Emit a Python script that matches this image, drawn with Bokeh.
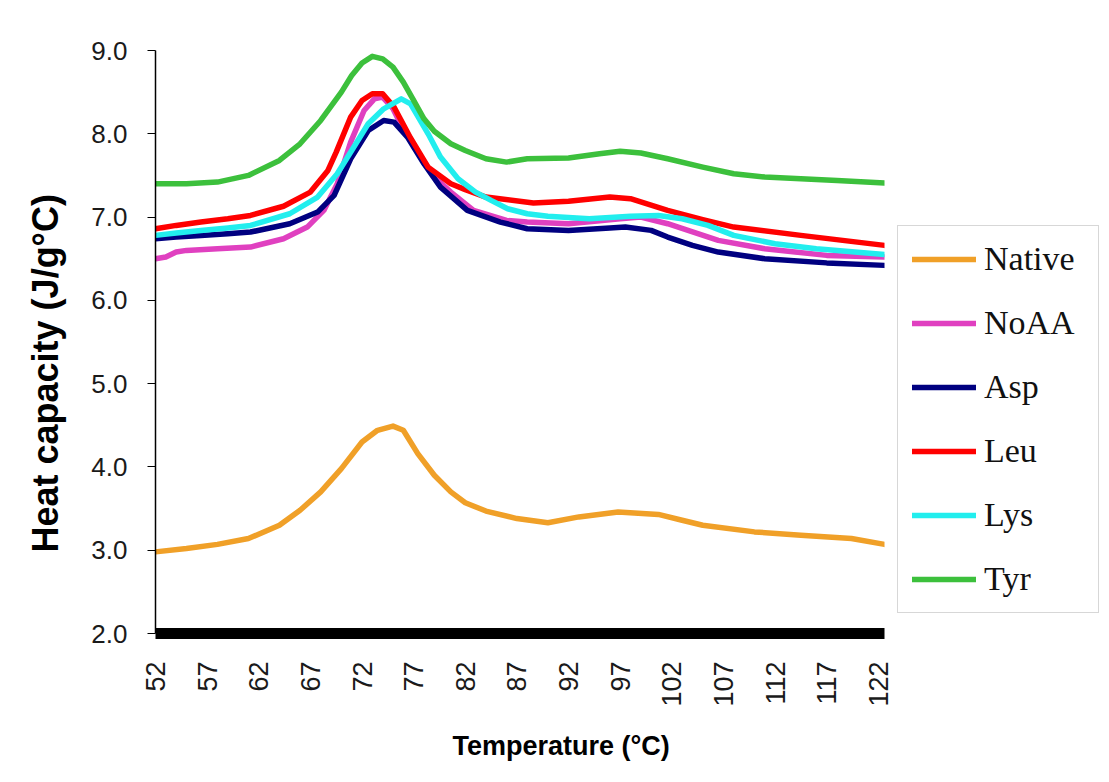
import math
from bokeh.plotting import figure
from bokeh.models import (Range1d, FixedTicker, PrintfTickFormatter, Legend, LegendItem, Title)
from bokeh.embed import file_html
from bokeh.resources import INLINE

# ---- data ----
series_names = ["Native", "NoAA", "Asp", "Leu", "Lys", "Tyr"]
series_colors = ["#F0A028", "#E040C0", "#000080", "#FF0000", "#22EEEE", "#3CC03C"]

native_T = [52, 55, 58, 61, 64, 66, 68, 70, 72, 73.5, 75, 76, 77.4, 79, 80.6, 82, 84, 87, 90, 93, 96.8, 100.7, 103, 105, 110, 114.5, 119.4, 122.6]
native = [2.98, 3.02, 3.07, 3.14, 3.30, 3.48, 3.70, 3.98, 4.30, 4.44, 4.49, 4.44, 4.16, 3.90, 3.70, 3.57, 3.47, 3.38, 3.33, 3.40, 3.46, 3.43, 3.36, 3.30, 3.22, 3.18, 3.14, 3.07]

noaa_T = [52, 53, 54, 55, 58, 61.2, 64.4, 66.7, 68.3, 69.6, 70.9, 72.2, 73.2, 74, 75, 76, 77.4, 79, 80.6, 82.8, 86, 88, 92, 97, 99, 101.6, 106.5, 111, 117, 122.6]
noaa = [6.50, 6.52, 6.58, 6.60, 6.62, 6.64, 6.74, 6.88, 7.08, 7.40, 7.90, 8.28, 8.42, 8.44, 8.30, 8.05, 7.78, 7.48, 7.30, 7.08, 6.96, 6.94, 6.92, 6.98, 7.00, 6.92, 6.72, 6.62, 6.54, 6.52]

asp_T = [52, 54, 56.4, 59, 61.2, 65, 67.7, 69.3, 70.9, 72.6, 74.1, 75.1, 76.4, 78, 79.6, 82.2, 85.4, 88, 92, 96, 97.5, 100, 101.6, 104, 106.5, 111, 117, 122.6]
asp = [6.74, 6.76, 6.78, 6.80, 6.82, 6.92, 7.06, 7.26, 7.70, 8.04, 8.16, 8.14, 7.96, 7.64, 7.36, 7.08, 6.94, 6.86, 6.84, 6.87, 6.88, 6.84, 6.76, 6.66, 6.58, 6.50, 6.45, 6.42]

leu_T = [52, 54, 56.4, 59, 61.2, 64.4, 67, 68.7, 69.5, 70.9, 72, 73, 74, 75.1, 76.7, 78.4, 80.6, 82, 84, 88.6, 92, 96, 98, 101.6, 105, 108, 114.5, 122.6]
leu = [6.86, 6.90, 6.94, 6.98, 7.02, 7.13, 7.30, 7.56, 7.78, 8.20, 8.40, 8.48, 8.48, 8.32, 7.95, 7.60, 7.40, 7.33, 7.24, 7.17, 7.19, 7.24, 7.22, 7.08, 6.97, 6.88, 6.78, 6.66]

lys_T = [52, 54, 56.4, 59, 61.2, 65, 67.7, 69.6, 71, 72.6, 74.1, 75.8, 76.7, 78.4, 79.6, 81.3, 83, 84.5, 86.1, 88, 90, 94, 98, 100.7, 103, 105.5, 108, 112, 116, 122.6]
lys = [6.78, 6.81, 6.84, 6.87, 6.90, 7.04, 7.24, 7.52, 7.80, 8.12, 8.30, 8.42, 8.36, 8.00, 7.72, 7.46, 7.30, 7.20, 7.10, 7.04, 7.01, 6.98, 7.01, 7.02, 6.98, 6.90, 6.78, 6.68, 6.62, 6.55]

tyr_T = [52, 55, 58, 61, 64, 66, 68, 70, 71, 72, 73, 74, 75, 76, 77, 78, 79, 80.6, 82, 84, 86, 88, 92, 95, 97, 99, 101.6, 105, 108, 111, 114.5, 118, 122.6]
tyr = [7.40, 7.40, 7.42, 7.50, 7.68, 7.88, 8.16, 8.50, 8.70, 8.85, 8.93, 8.90, 8.80, 8.62, 8.40, 8.18, 8.03, 7.88, 7.80, 7.70, 7.66, 7.70, 7.71, 7.76, 7.79, 7.77, 7.70, 7.60, 7.52, 7.48, 7.46, 7.44, 7.41]

x_ticks = [52, 57, 62, 67, 72, 77, 82, 87, 92, 97, 102, 107, 112, 117, 122]
y_ticks = [2.0, 3.0, 4.0, 5.0, 6.0, 7.0, 8.0, 9.0]

x_title = "Temperature (\u00b0C)"
y_title = "Heat capacity (J/g\u00b0C)"

# ---- figure ----
p = figure(output_backend="svg", toolbar_location=None,
           x_range=Range1d(52, 122.6), y_range=Range1d(2.0, 9.0),
           min_border_left=155, min_border_right=224, min_border_top=50, min_border_bottom=140)
p.frame_width = 729
p.frame_height = 583
p.outline_line_color = None
p.background_fill_color = "white"
p.border_fill_color = "white"
p.xgrid.visible = False
p.ygrid.visible = False

font = "Liberation Sans"

xa = p.xaxis[0]
xa.ticker = FixedTicker(ticks=x_ticks)
xa.axis_line_width = 11
xa.axis_line_color = "black"
xa.major_tick_out = 0
xa.major_tick_in = 0
xa.minor_tick_out = 0
xa.minor_tick_in = 0
xa.major_label_orientation = math.pi / 2
xa.major_label_standoff = 28
xa.major_label_text_font = font
xa.major_label_text_font_size = "27px"
xa.major_label_text_color = "#1a1a1a"

ya = p.yaxis[0]
ya.ticker = FixedTicker(ticks=y_ticks)
ya.formatter = PrintfTickFormatter(format="%.1f")
ya.axis_line_color = "black"
ya.axis_line_width = 1.5
ya.major_tick_out = 8
ya.major_tick_in = 0
ya.major_tick_line_color = "black"
ya.minor_tick_out = 0
ya.minor_tick_in = 0
ya.major_label_standoff = 20
ya.major_label_text_font = font
ya.major_label_text_font_size = "26px"
ya.major_label_text_color = "#1a1a1a"

renderers = []
for T, v, c in zip([native_T, noaa_T, asp_T, leu_T, lys_T, tyr_T],
                   [native, noaa, asp, leu, lys, tyr], series_colors):
    r = p.line(T, v, line_color=c, line_width=5.5, line_join="round", line_cap="round")
    renderers.append(r)

legend = Legend(items=[LegendItem(label=n, renderers=[r]) for n, r in zip(series_names, renderers)],
                location=(13, 20), orientation="vertical",
                label_text_font="Liberation Serif", label_text_font_size="34px",
                label_text_color="#111111",
                glyph_width=64, glyph_height=38, label_height=38, label_width=100,
                label_standoff=8, spacing=26, padding=14, margin=0,
                border_line_color="#b0b0b0", border_line_width=1.5,
                background_fill_color="white")
p.add_layout(legend, "right")

ty = Title(text=y_title, align="left", offset=81, text_font=font, text_font_size="36px",
           text_font_style="bold", text_color="black", standoff=45)
p.add_layout(ty, "left")

tx = Title(text=x_title, align="left", offset=297, vertical_align="top", text_font=font,
           text_font_size="27px", text_font_style="bold", text_color="black", standoff=42)
p.add_layout(tx, "below")

open("out.html", "w").write(file_html(p, INLINE))
